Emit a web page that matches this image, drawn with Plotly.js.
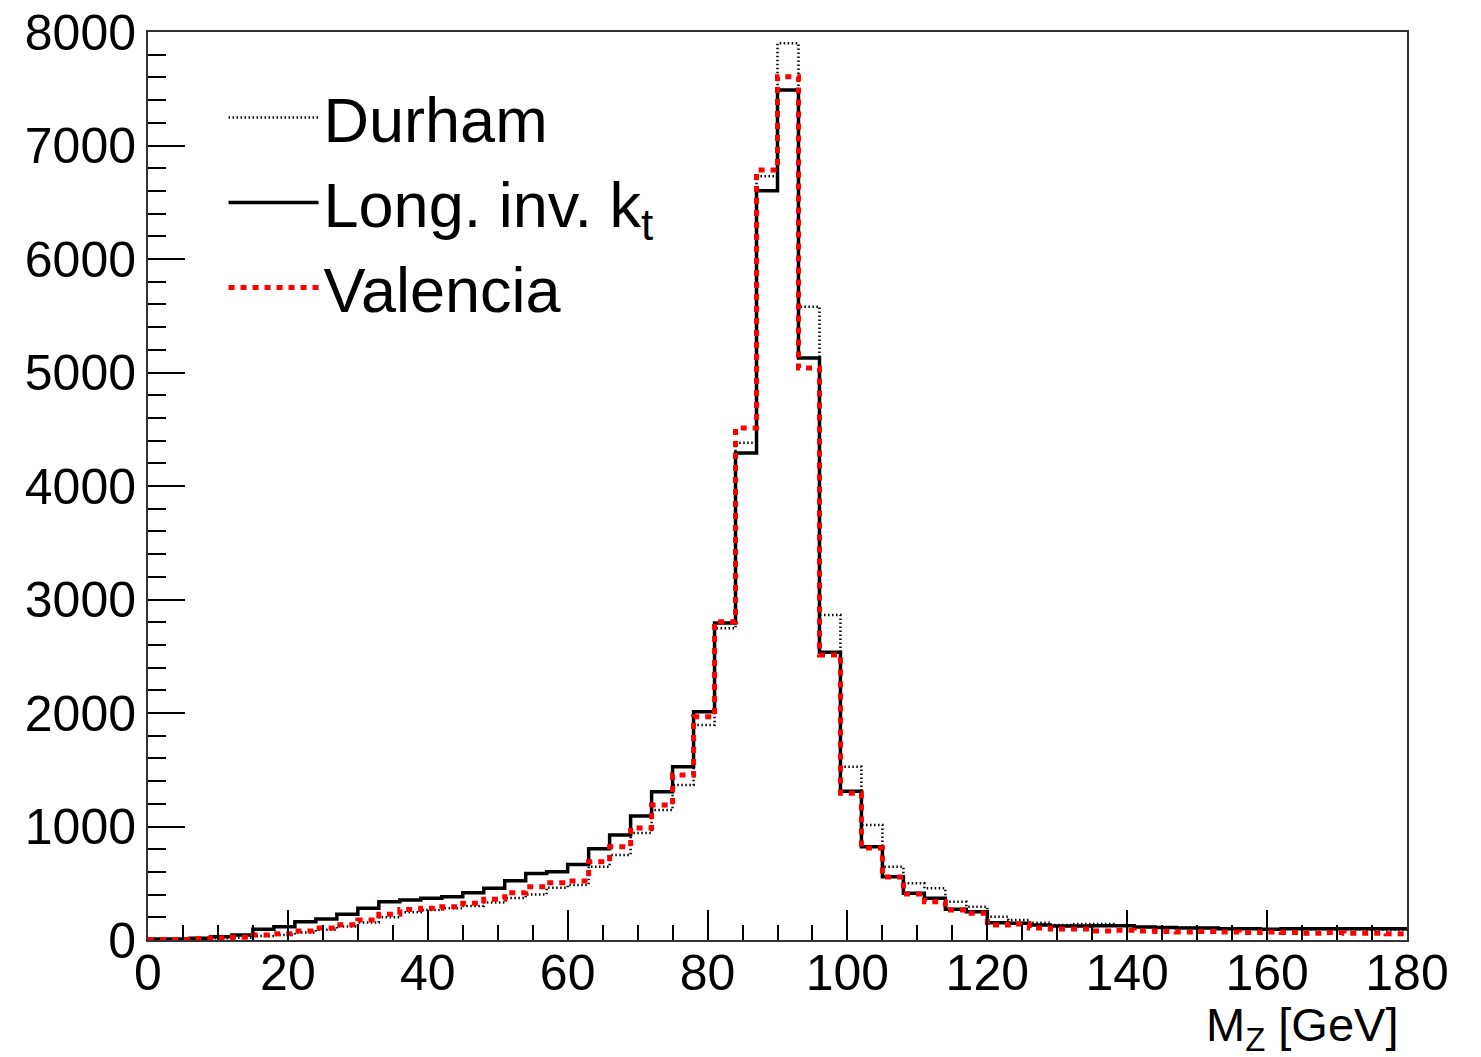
<!DOCTYPE html>
<html>
<head>
<meta charset="utf-8">
<script src="https://cdn.plot.ly/plotly-3.0.1.min.js"></script>
<style>html,body{margin:0;padding:0;background:#fff;}#chart{width:1481px;height:1057px;}</style>
</head>
<body>
<div id="chart"></div>
<script>
// Bin edges: 0..180 GeV in 3 GeV bins
var binEdges = [];
for (var e = 0; e <= 180; e += 3) binEdges.push(e);

var durham = [3,5,8,15,20,35,45,65,90,120,155,200,245,265,280,300,330,370,400,460,
  485,646,749,943,1145,1366,1894,2747,4380,6730,7900,5580,2863,1527,1013,646,499,455,337,293,
  205,176,152,132,141,140,130,115,110,110,105,100,100,95,100,95,95,95,90,90];
var longInvKt = [8,8,15,29,44,94,117,161,185,226,279,338,352,367,382,417,455,522,587,602,
  665,805,925,1093,1307,1527,2012,2793,4290,6602,7489,5128,2535,1310,822,558,411,367,270,250,
  152,147,132,123,123,125,125,115,110,105,105,100,100,95,100,100,100,100,100,100];
var valencia = [5,5,10,20,25,44,55,80,105,135,176,226,268,279,294,323,358,417,470,505,
  520,690,822,987,1189,1454,1968,2805,4510,6784,7606,5040,2511,1293,810,555,405,337,264,235,
  132,141,106,97,97,80,85,80,75,70,75,70,65,70,65,60,65,60,60,55];

var seriesNames = ["Durham", "Long. inv. k<sub>t</sub>", "Valencia"];
var xTickVals = [0,20,40,60,80,100,120,140,160,180];
var yTickVals = [0,1000,2000,3000,4000,5000,6000,7000,8000];

function stepY(vals){ return vals.concat([vals[vals.length-1]]); }

var traces = [
  {x: binEdges, y: stepY(durham), name: seriesNames[0], type: 'scatter', mode: 'lines',
   line: {shape: 'hv', color: '#000', width: 2.5, dash: '1.5px,2.5px'}},
  {x: binEdges, y: stepY(longInvKt), name: seriesNames[1], type: 'scatter', mode: 'lines',
   line: {shape: 'hv', color: '#000', width: 3.5}},
  {x: binEdges, y: stepY(valencia), name: seriesNames[2], type: 'scatter', mode: 'lines',
   line: {shape: 'hv', color: '#ff0000', width: 5, dash: '6px,6px'}}
];

var fontFam = '"Liberation Sans", Arial, Helvetica, sans-serif';
var layout = {
  width: 1481, height: 1057,
  margin: {l: 148, r: 74, t: 32, b: 117},
  paper_bgcolor: '#fff', plot_bgcolor: '#fff',
  font: {family: fontFam, color: '#000', size: 50},
  showlegend: true,
  legend: {x: 0.06, y: 0.958, xanchor: 'left', yanchor: 'top', bgcolor: 'rgba(0,0,0,0)',
           font: {size: 63, family: fontFam, color: '#000'}, itemwidth: 90, tracegroupgap: 0},
  xaxis: {range: [0, 180], tickvals: xTickVals, ticks: 'inside', ticklen: 30, tickwidth: 2,
          tickcolor: '#000', showgrid: false, zeroline: false, showline: true, linecolor: '#333',
          linewidth: 2, mirror: true, tickfont: {size: 50}, ticklabelstandoff: -12,
          minor: {dtick: 5, ticks: 'inside', ticklen: 15, tickwidth: 2, tickcolor: '#000', showgrid: false}},
  yaxis: {range: [0, 8000], tickvals: yTickVals, ticks: 'inside', ticklen: 37, tickwidth: 2,
          tickcolor: '#000', showgrid: false, zeroline: false, showline: true, linecolor: '#333',
          linewidth: 2, mirror: true, tickfont: {size: 50},
          minor: {dtick: 200, ticks: 'inside', ticklen: 18, tickwidth: 2, tickcolor: '#000', showgrid: false}},
  annotations: [
    {text: 'M<sub>Z</sub> [GeV]', xref: 'paper', yref: 'paper', x: 0.9944, y: -0.097,
     xanchor: 'right', yanchor: 'middle', showarrow: false, font: {size: 47, family: fontFam, color: '#000'}}
  ]
};

Plotly.newPlot('chart', traces, layout, {displayModeBar: false, staticPlot: true});
</script>
</body>
</html>
